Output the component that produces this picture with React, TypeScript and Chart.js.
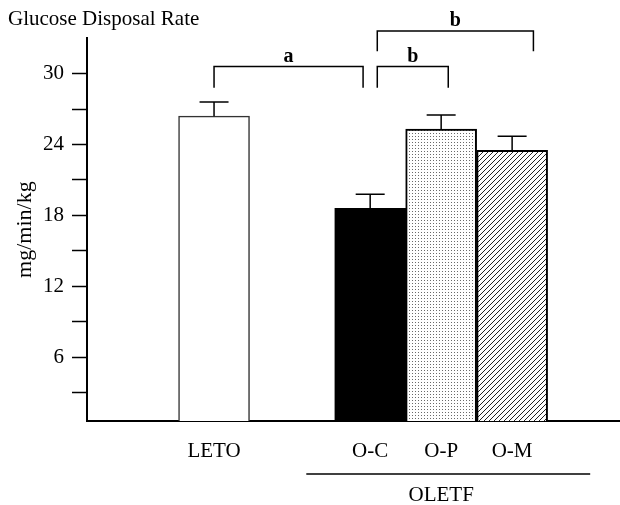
import { useEffect, useRef } from "react";
import { Chart, registerables } from "chart.js";

Chart.register(...registerables);

// ---- data ----
const titleText = "Glucose Disposal Rate";
const yAxisTitle = "mg/min/kg";
const groups = ["LETO", "O-C", "O-P", "O-M"];
const groupSlots = [0, 2.2, 3.2, 4.2];
const meanValues = [26.4, 18.6, 25.3, 23.5];
const errorValues = [1.2, 1.2, 1.2, 1.2];
const yTickValues = [3, 6, 9, 12, 15, 18, 21, 24, 27, 30];
const yLabelledTicks = [6, 12, 18, 24, 30];
const bracketLetters = ["a", "b", "b"];
const bracketFrom = [0, 2.3, 2.3];
const bracketTo = [2.1, 3.3, 4.5];
const bracketTop = [30.6, 30.6, 33.6];
const bracketFoot = [28.8, 28.8, 31.9];
const superGroupLabel = "OLETF";
const superGroupSpan = [1.3, 5.3];
const superGroupMembers = [1, 2, 3];

const FONT = "'Liberation Serif', 'Times New Roman', serif";

function makeDots(): CanvasPattern | string {
  const c = document.createElement("canvas");
  c.width = 3;
  c.height = 3;
  const g = c.getContext("2d");
  if (!g) return "#eee";
  g.fillStyle = "#ffffff";
  g.fillRect(0, 0, 3, 3);
  g.fillStyle = "#6a6a6a";
  g.fillRect(1, 1, 1, 1);
  return g.createPattern(c, "repeat") || "#eee";
}

function makeHatch(): CanvasPattern | string {
  const s = 5;
  const c = document.createElement("canvas");
  c.width = s;
  c.height = s;
  const g = c.getContext("2d");
  if (!g) return "#999";
  g.fillStyle = "#ffffff";
  g.fillRect(0, 0, s, s);
  g.strokeStyle = "#222";
  g.lineWidth = 1;
  g.beginPath();
  g.moveTo(-1, s + 1);
  g.lineTo(s + 1, -1);
  g.moveTo(-1, 1);
  g.lineTo(1, -1);
  g.moveTo(s - 1, s + 1);
  g.lineTo(s + 1, s - 1);
  g.stroke();
  return g.createPattern(c, "repeat") || "#999";
}

const errorBarPlugin = {
  id: "errorBars",
  afterDatasetsDraw(chart: any) {
    const ctx = chart.ctx;
    const y = chart.scales.y;
    const meta = chart.getDatasetMeta(0);
    ctx.save();
    ctx.strokeStyle = "#000";
    ctx.lineWidth = 1.5;
    meta.data.forEach((bar: any, i: number) => {
      const top = y.getPixelForValue(meanValues[i]);
      const cap = y.getPixelForValue(meanValues[i] + errorValues[i]);
      ctx.beginPath();
      ctx.moveTo(bar.x, top);
      ctx.lineTo(bar.x, cap);
      ctx.moveTo(bar.x - 14.5, cap);
      ctx.lineTo(bar.x + 14.5, cap);
      ctx.stroke();
    });
    ctx.restore();
  },
};

const annotationPlugin = {
  id: "brackets",
  afterDraw(chart: any) {
    const ctx = chart.ctx;
    const x = chart.scales.x;
    const y = chart.scales.y;
    const area = chart.chartArea;
    ctx.save();
    ctx.strokeStyle = "#000";
    ctx.lineWidth = 1.5;
    ctx.fillStyle = "#000";
    ctx.textAlign = "center";
    ctx.textBaseline = "alphabetic";
    ctx.font = `bold 20px ${FONT}`;
    bracketLetters.forEach((letter, i) => {
      const x0 = x.getPixelForValue(bracketFrom[i]);
      const x1 = x.getPixelForValue(bracketTo[i]);
      const yt = y.getPixelForValue(bracketTop[i]);
      const yb = y.getPixelForValue(bracketFoot[i]);
      ctx.beginPath();
      ctx.moveTo(x0, yb);
      ctx.lineTo(x0, yt);
      ctx.lineTo(x1, yt);
      ctx.lineTo(x1, yb);
      ctx.stroke();
      ctx.fillText(letter, (x0 + x1) / 2, yt - 5);
    });
    // super-group line and label
    const sx0 = x.getPixelForValue(superGroupSpan[0]);
    const sx1 = x.getPixelForValue(superGroupSpan[1]);
    const ly = area.bottom + 53;
    ctx.lineWidth = 1.5;
    ctx.beginPath();
    ctx.moveTo(sx0, ly);
    ctx.lineTo(sx1, ly);
    ctx.stroke();
    const members = superGroupMembers.map((m) => groupSlots[m]);
    const mid = (Math.min(...members) + Math.max(...members)) / 2;
    ctx.font = `21px ${FONT}`;
    ctx.textBaseline = "middle";
    ctx.fillText(superGroupLabel, x.getPixelForValue(mid), area.bottom + 74);
    ctx.restore();
  },
};

export default function App() {
  const ref = useRef<HTMLCanvasElement | null>(null);

  useEffect(() => {
    if (!ref.current) return;
    const fills = ["#ffffff", "#000000", makeDots(), makeHatch()];
    const chart = new Chart(ref.current, {
      type: "bar",
      data: {
        datasets: [
          {
            data: groupSlots.map((s, i) => ({ x: s, y: meanValues[i] })) as any,
            backgroundColor: fills as any,
            borderColor: ["#333", "#000", "#000", "#000"],
            borderWidth: [1.5, 1.5, 2, 2] as any,
            barPercentage: 1,
            categoryPercentage: 1,
          },
        ],
      },
      options: {
        animation: false,
        responsive: true,
        maintainAspectRatio: false,
        layout: { padding: { left: 8, right: 0, top: 0, bottom: 0 } },
        plugins: {
          legend: { display: false },
          tooltip: { enabled: false },
          title: {
            display: true,
            text: titleText,
            align: "start",
            color: "#000",
            font: { family: FONT, size: 21, weight: "normal" },
            padding: { top: 7, bottom: 6 },
          },
        },
        scales: {
          x: {
            type: "linear",
            offset: false,
            min: -1.79,
            max: 5.72,
            afterBuildTicks: (s: any) => {
              s.ticks = groupSlots.map((v) => ({ value: v }));
            },
            afterFit: (s: any) => {
              s.height = 84;
            },
            ticks: {
              autoSkip: false,
              maxRotation: 0,
              color: "#000",
              padding: 10,
              font: { family: FONT, size: 21 },
              callback: (v: any) => groups[groupSlots.indexOf(Number(v))] ?? "",
            },
            grid: { display: false, offset: false },
            border: { display: true, color: "#000", width: 2 },
          },
          y: {
            type: "linear",
            min: 0.6,
            max: 33,
            afterBuildTicks: (s: any) => {
              s.ticks = yTickValues.map((v) => ({ value: v }));
            },
            afterFit: (s: any) => {
              s.width = 79;
            },
            ticks: {
              color: "#000",
              padding: 8,
              font: { family: FONT, size: 21 },
              callback: (v: any) => (yLabelledTicks.includes(Number(v)) ? String(v) : ""),
            },
            grid: {
              drawOnChartArea: false,
              tickLength: 15,
              tickColor: "#000",
              tickWidth: 1.5,
            },
            border: { display: true, color: "#000", width: 2 },
            title: {
              display: true,
              text: yAxisTitle,
              color: "#000",
              font: { family: FONT, size: 22 },
              padding: { top: 4, bottom: 0 },
            },
          },
        },
      } as any,
      plugins: [errorBarPlugin, annotationPlugin],
    });
    return () => chart.destroy();
  }, []);

  return (
    <div style={{ position: "absolute", left: 0, top: 0, width: 620, height: 505 }}>
      <canvas ref={ref} />
    </div>
  );
}
